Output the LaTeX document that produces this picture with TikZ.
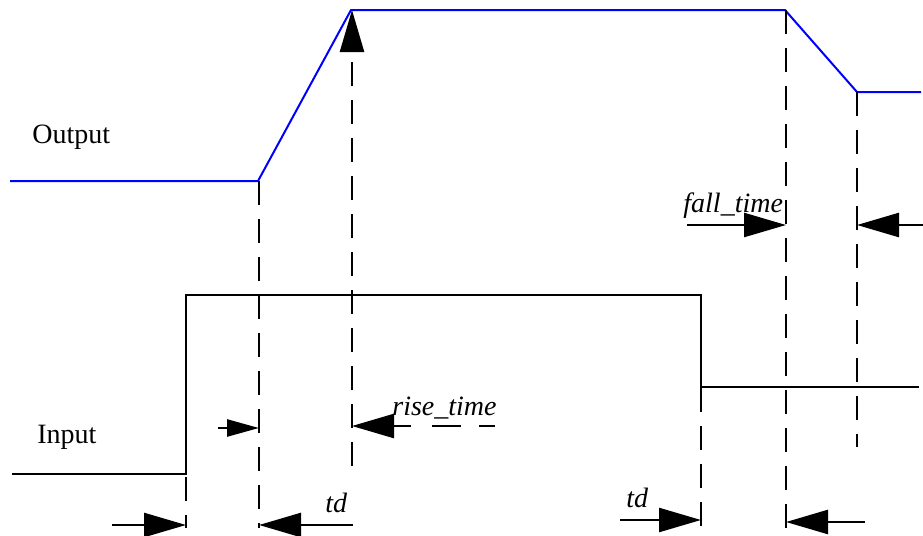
\documentclass[tikz,border=0pt]{standalone}
\usepackage{fontspec}
\setmainfont{Liberation Serif}
\usetikzlibrary{arrows.meta}
\begin{document}
\begin{tikzpicture}[x=0.5pt,y=-0.5pt,
  insig/.style={line width=1.3pt, line join=miter},
  outsig/.style={line width=1pt, draw={rgb,255:red,0;green,0;blue,255}, line join=miter},
  guide/.style={line width=1.25pt, dash pattern=on 12pt off 7pt},
  bigarrow/.style={-{Triangle[length=21pt,width=12pt]}, line width=1.25pt},
  bigarrowrev/.style={{Triangle[length=21pt,width=12pt]}-, line width=1.25pt},
  smallarrow/.style={-{Triangle[length=16pt,width=8.5pt]}, line width=1.25pt},
  lbl/.style={inner sep=0pt, font=\fontsize{14}{16}\selectfont},
  ilbl/.style={inner sep=0pt, font=\fontsize{14}{16}\selectfont\itshape}]
\useasboundingbox (0,0) rectangle (923,536);

% output waveform
\coordinate (o0) at (10,181);
\coordinate (o1) at (258,181);
\coordinate (o2) at (351,10);
\coordinate (o3) at (785,10);
\coordinate (o4) at (857,92);
\coordinate (o5) at (921,92);
\draw[outsig] (o0) -- (o1) -- (o2) -- (o3) -- (o4) -- (o5);

% input waveform
\coordinate (i0) at (12,474);
\coordinate (i1) at (186,474);
\coordinate (i2) at (186,295);
\coordinate (i3) at (701,295);
\coordinate (i4) at (701,387);
\coordinate (i5) at (919,387);
\draw[insig] (i0) -- (i1) -- (i2) -- (i3) -- (i4) -- (i5);

% guide lines
\coordinate (gA0) at (186,477); \coordinate (gA1) at (186,528);
\coordinate (gB0) at (259,181); \coordinate (gB1) at (259,528);
\coordinate (gC0) at (352,466); \coordinate (gC1) at (352,10);
\coordinate (gD0) at (701,388); \coordinate (gD1) at (701,528);
\coordinate (gE0) at (786,10);  \coordinate (gE1) at (786,528);
\coordinate (gF0) at (857,92);  \coordinate (gF1) at (857,447);
\draw[guide] (gA0) -- (gA1);
\draw[guide] (gB0) -- (gB1);
\draw[guide, bigarrow] (gC0) -- (gC1);
\draw[guide] (gD0) -- (gD1);
\draw[guide] (gE0) -- (gE1);
\draw[guide] (gF0) -- (gF1);

% dimension arrows
\coordinate (a1s) at (112,525); \coordinate (a1e) at (186,525);
\coordinate (a2s) at (353,525); \coordinate (a2e) at (259,525);
\coordinate (a3s) at (620,520); \coordinate (a3e) at (701,520);
\coordinate (a4s) at (865,522); \coordinate (a4e) at (786,522);
\coordinate (a5s) at (218,428); \coordinate (a5e) at (259,428);
\coordinate (a6s) at (495,426); \coordinate (a6e) at (352,426);
\coordinate (a7s) at (687,225); \coordinate (a7e) at (786,225);
\coordinate (a8s) at (923,225); \coordinate (a8e) at (857,225);
\draw[bigarrow] (a1s) -- (a1e);
\draw[bigarrow] (a2s) -- (a2e);
\draw[bigarrow] (a3s) -- (a3e);
\draw[bigarrow] (a4s) -- (a4e);
\draw[smallarrow] (a5s) -- (a5e);
\draw[bigarrowrev, dash pattern=on 9pt off 10.5pt on 14.5pt off 9pt on 20pt off 10pt] (a6e) -- (a6s);
\draw[bigarrow] (a7s) -- (a7e);
\draw[bigarrow] (a8s) -- (a8e);

% labels
\node[lbl, anchor=base west] (out) at (32,143) {Output};
\node[lbl, anchor=base west] (in) at (37,443) {Input};
\node[ilbl, anchor=base west] (rise) at (392,415) {rise\_time};
\node[ilbl, anchor=base west] (fall) at (683,212) {fall\_time};
\node[ilbl, anchor=base west] (td1) at (325,512) {td};
\node[ilbl, anchor=base west] (td2) at (626,507) {td};
\end{tikzpicture}
\end{document}
